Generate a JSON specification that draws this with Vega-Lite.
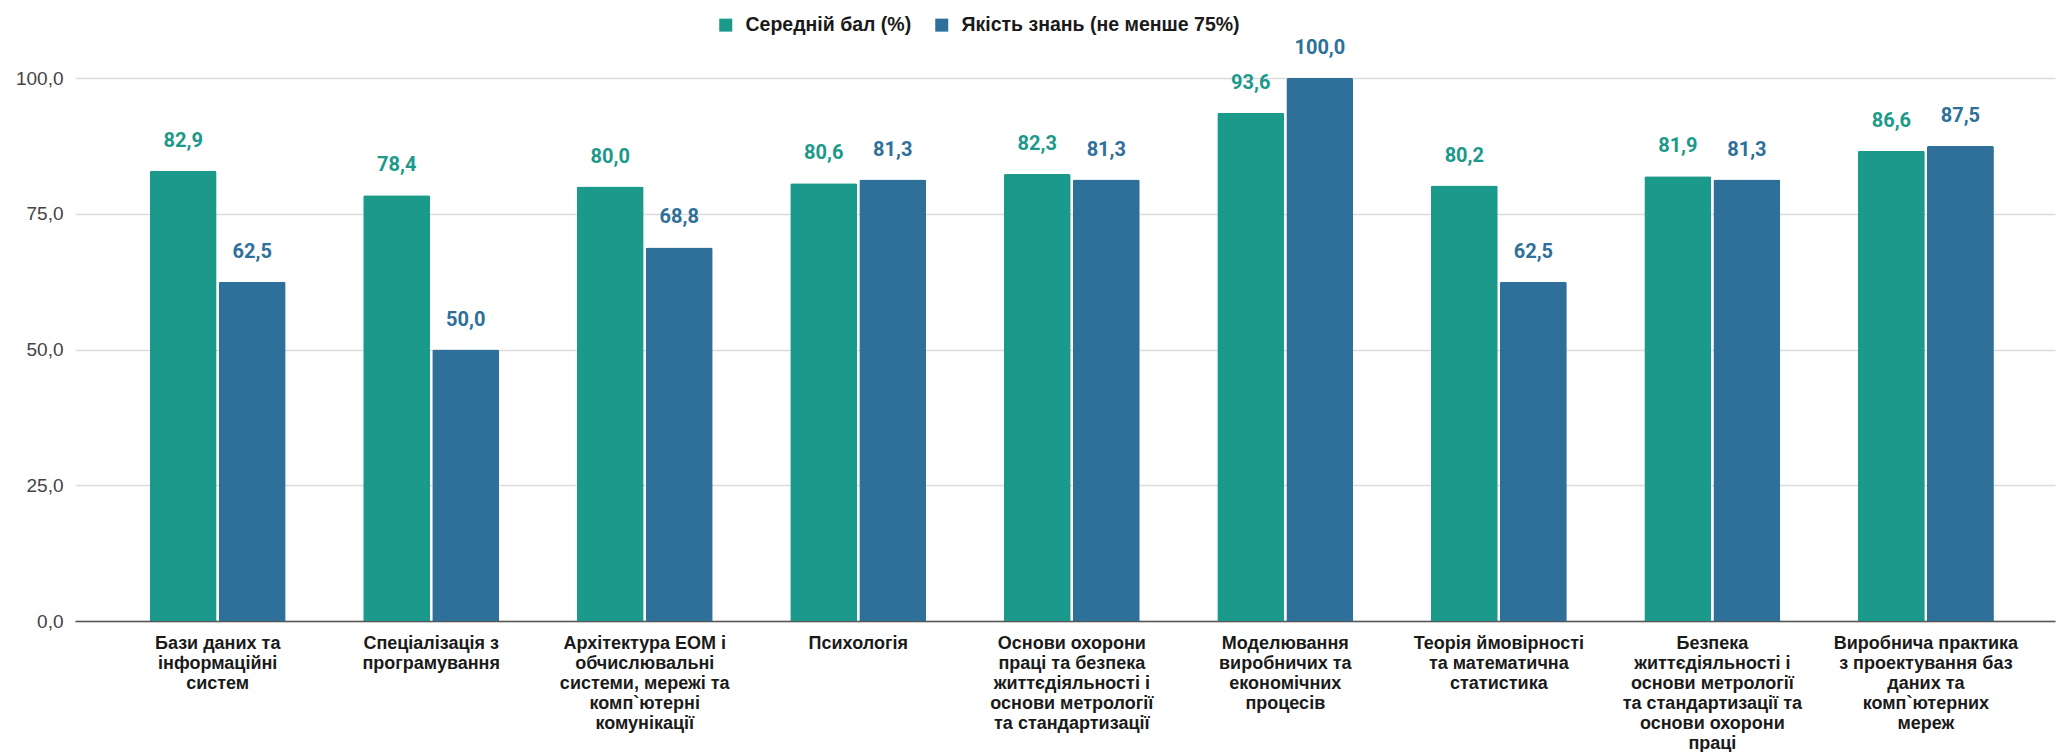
{
  "$schema": "https://vega.github.io/schema/vega-lite/v6.json",
  "width": 1980,
  "height": 543,
  "autosize": {"type": "none"},
  "padding": {"left": 75, "top": 78, "right": 3, "bottom": 131},
  "background": "#ffffff",
  "config": {
    "view": {"stroke": null},
    "locale": {"number": {"decimal": ",", "thousands": " ", "grouping": [3], "currency": ["", ""]}}
  },
  "data": {
    "values": [
      {"subject": "Бази даних та\nінформаційні\nсистем", "series": "Середній бал (%)", "value": 82.9},
      {"subject": "Бази даних та\nінформаційні\nсистем", "series": "Якість знань (не менше 75%)", "value": 62.5},
      {"subject": "Спеціалізація з\nпрограмування", "series": "Середній бал (%)", "value": 78.4},
      {"subject": "Спеціалізація з\nпрограмування", "series": "Якість знань (не менше 75%)", "value": 50.0},
      {"subject": "Архітектура ЕОМ і\nобчислювальні\nсистеми, мережі та\nкомп`ютерні\nкомунікації", "series": "Середній бал (%)", "value": 80.0},
      {"subject": "Архітектура ЕОМ і\nобчислювальні\nсистеми, мережі та\nкомп`ютерні\nкомунікації", "series": "Якість знань (не менше 75%)", "value": 68.8},
      {"subject": "Психологія", "series": "Середній бал (%)", "value": 80.6},
      {"subject": "Психологія", "series": "Якість знань (не менше 75%)", "value": 81.3},
      {"subject": "Основи охорони\nпраці та безпека\nжиттєдіяльності і\nоснови метрології\nта стандартизації", "series": "Середній бал (%)", "value": 82.3},
      {"subject": "Основи охорони\nпраці та безпека\nжиттєдіяльності і\nоснови метрології\nта стандартизації", "series": "Якість знань (не менше 75%)", "value": 81.3},
      {"subject": "Моделювання\nвиробничих та\nекономічних\nпроцесів", "series": "Середній бал (%)", "value": 93.6},
      {"subject": "Моделювання\nвиробничих та\nекономічних\nпроцесів", "series": "Якість знань (не менше 75%)", "value": 100.0},
      {"subject": "Теорія ймовірності\nта математична\nстатистика", "series": "Середній бал (%)", "value": 80.2},
      {"subject": "Теорія ймовірності\nта математична\nстатистика", "series": "Якість знань (не менше 75%)", "value": 62.5},
      {"subject": "Безпека\nжиттєдіяльності і\nоснови метрології\nта стандартизації та\nоснови охорони\nпраці", "series": "Середній бал (%)", "value": 81.9},
      {"subject": "Безпека\nжиттєдіяльності і\nоснови метрології\nта стандартизації та\nоснови охорони\nпраці", "series": "Якість знань (не менше 75%)", "value": 81.3},
      {"subject": "Виробнича практика\nз проектування баз\nданих та\nкомп`ютерних\nмереж", "series": "Середній бал (%)", "value": 86.6},
      {"subject": "Виробнича практика\nз проектування баз\nданих та\nкомп`ютерних\nмереж", "series": "Якість знань (не менше 75%)", "value": 87.5}
    ]
  },
  "encoding": {
    "x": {
      "field": "subject",
      "type": "nominal",
      "sort": null,
      "title": null,
      "scale": {"paddingInner": 0.363, "paddingOuter": 0.318, "align": 0.55},
      "axis": {
        "labelExpr": "split(datum.label, '\\n')",
        "labelAngle": 0,
        "labelFont": "Liberation Sans",
        "labelFontSize": 18,
        "labelFontWeight": "bold",
        "labelColor": "#1a1a1a",
        "labelLineHeight": 20,
        "labelPadding": 13,
        "labelBaseline": "top",
        "labelLimit": 300,
        "ticks": false,
        "domainColor": "#555555",
        "domainWidth": 1.5,
        "grid": false
      }
    },
    "xOffset": {
      "field": "series",
      "type": "nominal",
      "sort": ["Середній бал (%)", "Якість знань (не менше 75%)"],
      "scale": {"paddingInner": 0.03, "paddingOuter": 0}
    },
    "y": {
      "field": "value",
      "type": "quantitative",
      "title": null,
      "scale": {"domain": [0, 100], "nice": false},
      "axis": {
        "values": [0, 25, 50, 75, 100],
        "format": ".1f",
        "labelFont": "Liberation Sans",
        "labelFontSize": 19,
        "labelColor": "#444444",
        "labelPadding": 12,
        "ticks": false,
        "domain": false,
        "gridColor": "#dcdcdc",
        "gridWidth": 1.5
      }
    },
    "color": {
      "field": "series",
      "type": "nominal",
      "sort": ["Середній бал (%)", "Якість знань (не менше 75%)"],
      "scale": {"domain": ["Середній бал (%)", "Якість знань (не менше 75%)"], "range": ["#1b998a", "#2e7099"]},
      "legend": {
        "title": null,
        "orient": "none",
        "direction": "horizontal",
        "legendX": 641,
        "legendY": -63,
        "symbolType": "square",
        "symbolSize": 169,
        "symbolStrokeWidth": 0,
        "labelFont": "Liberation Sans",
        "labelFontSize": 19.5,
        "labelFontWeight": "bold",
        "labelColor": "#1a1a1a",
        "labelLimit": 500,
        "labelOffset": 10,
        "columnPadding": 20,
        "padding": 0
      }
    }
  },
  "layer": [
    {
      "mark": {"type": "bar", "cornerRadiusTopLeft": 2, "cornerRadiusTopRight": 2}
    },
    {
      "mark": {"type": "text", "baseline": "alphabetic", "dy": -24, "font": "Roboto", "fontSize": 20, "fontWeight": "bold"},
      "encoding": {
        "text": {"field": "value", "type": "quantitative", "format": ".1f"}
      }
    }
  ]
}
